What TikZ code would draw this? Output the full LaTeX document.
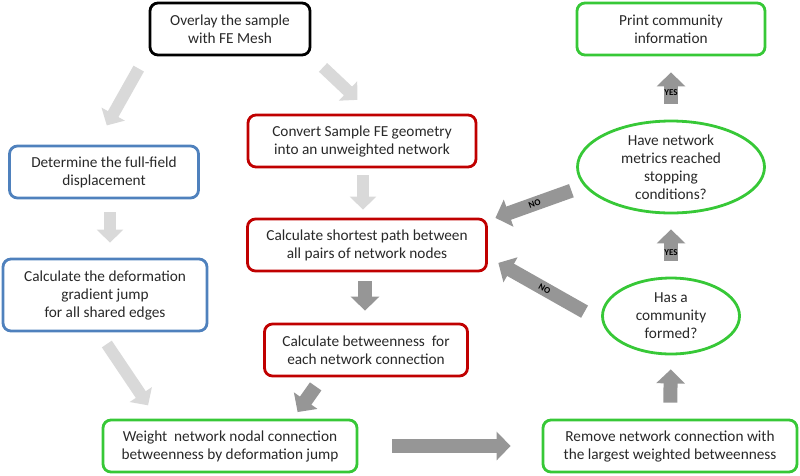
\documentclass[tikz,border=0pt]{standalone}
\usepackage{fontspec}
\setmainfont{Carlito}
\usetikzlibrary{shapes.geometric, arrows.meta}

\definecolor{boxred}{RGB}{192,0,0}
\definecolor{boxblue}{RGB}{79,129,189}
\definecolor{boxgreen}{RGB}{55,200,55}
\definecolor{lightarr}{RGB}{217,217,217}
\definecolor{darkarr}{RGB}{150,150,150}
\definecolor{textgray}{RGB}{40,40,40}

\begin{document}
\begin{tikzpicture}[
      x = 1pt, y = -1pt,
      font = \fontsize{15.3}{18}\selectfont,
      text = textgray,
      stage/.style = {
        rectangle,
        line width = 2.8pt,
        align = center,
        rounded corners = 8pt,
        inner sep = 0,
        minimum height = 52pt,
      },
      blackstage/.style = {stage, draw = black},
      redstage/.style = {stage, draw = boxred},
      bluestage/.style = {stage, draw = boxblue},
      greenstage/.style = {stage, draw = boxgreen},
      query/.style = {
        ellipse,
        draw = boxgreen,
        line width = 2.8pt,
        align = center,
        inner sep = 0,
      },
      lightarrow/.style = {
        draw = lightarr,
        line width = 12pt,
        -{Triangle[width = 26pt, length = 13pt]},
      },
      darkarrow/.style = {
        draw = darkarr,
        line width = 14pt,
        -{Triangle[width = 28pt, length = 14pt]},
      },
      answer/.style = {
        font = \fontsize{9}{10}\selectfont\bfseries,
        text = black,
        inner sep = 0,
      },
    ]
    \useasboundingbox (0,0) rectangle (800,475);

    \node[blackstage, minimum width = 160pt] (over) at (230,29) {Overlay the sample\\with FE Mesh};
    \node[redstage, minimum width = 228pt] (conv) at (362,141) {Convert Sample FE geometry\\into an unweighted network};
    \node[redstage, minimum width = 239pt] (short) at (367,245) {Calculate shortest path between\\all pairs of network nodes};
    \node[redstage, minimum width = 203pt] (betw) at (366,350) {Calculate betweenness\ \ for\\each network connection};
    \node[bluestage, minimum width = 189pt] (det) at (104,172) {Determine the full-field\\displacement};
    \node[bluestage, minimum width = 204pt, minimum height = 72pt] (defo) at (105,295) {Calculate the deformation\\gradient jump\\for all shared edges};
    \node[greenstage, minimum width = 254pt] (weight) at (230,446) {Weight\ \ network nodal connection\\betweenness by deformation jump};
    \node[greenstage, minimum width = 254pt] (remove) at (670,446) {Remove network connection with\\the largest weighted betweenness};
    \node[greenstage, minimum width = 188pt] (print) at (671,29) {Print community\\information};
    \node[query, minimum width = 187pt, minimum height = 92pt] (stop) at (671,167) {Have network\\metrics reached\\stopping\\conditions?};
    \node[query, minimum width = 137pt, minimum height = 76pt] (hasa) at (671,316) {Has a\\community\\formed?};

    \begin{scope}[lightarrow]
      \draw[shorten <= 14pt, shorten >= 22pt] ([xshift = -3pt]over.south west) -- ([xshift = -8pt]det.north);
      \draw[shorten <= 16pt, shorten >= 20pt] (over.south east) -- ([xshift = 10pt]conv.north);
      \draw[shorten <= 7pt, shorten >= 8pt] ([xshift = 1pt]conv.south) -- ([xshift = -4pt]short.north);
      \draw[shorten <= 13pt, shorten >= 15pt] ([xshift = 6pt]det.south) -- ([xshift = 5pt]defo.north);
      \draw[shorten <= 14pt, shorten >= 16pt] ([xshift = -6pt]defo.south) -- ([xshift = -73pt]weight.north);
    \end{scope}

    \begin{scope}[darkarrow]
      \draw[shorten <= 9pt, shorten >= 12pt] ([xshift = -2pt]short.south) -- ([xshift = -1pt]betw.north);
      \draw[shorten <= 11pt, shorten >= 8pt] ([xshift = -44pt]betw.south) -- ([xshift = 63pt]weight.north);
      \draw[shorten <= 34pt, shorten >= 31pt] (weight.east) -- (remove.west);
      \draw[shorten <= 16pt, shorten >= 14pt] (remove.north) -- (hasa.south);
      \draw[shorten <= 16pt, shorten >= 15pt] (hasa.north) -- node[answer, pos = .38] {YES} (stop.south);
      \draw[shorten <= 16pt, shorten >= 16pt] (stop.north) -- node[answer, pos = .43] {YES} (print.south);
      \draw[shorten <= 5pt, shorten >= 8pt] ([yshift = -22pt]stop.west) -- node[answer, sloped, pos = .47] {NO} ([yshift = -3pt]short.north east);
      \draw[shorten <= 19pt, shorten >= 12pt] ([yshift = -5pt]hasa.west) -- node[answer, sloped] {NO} ([yshift = -12pt]short.east);
    \end{scope}

  \end{tikzpicture}
\end{document}
